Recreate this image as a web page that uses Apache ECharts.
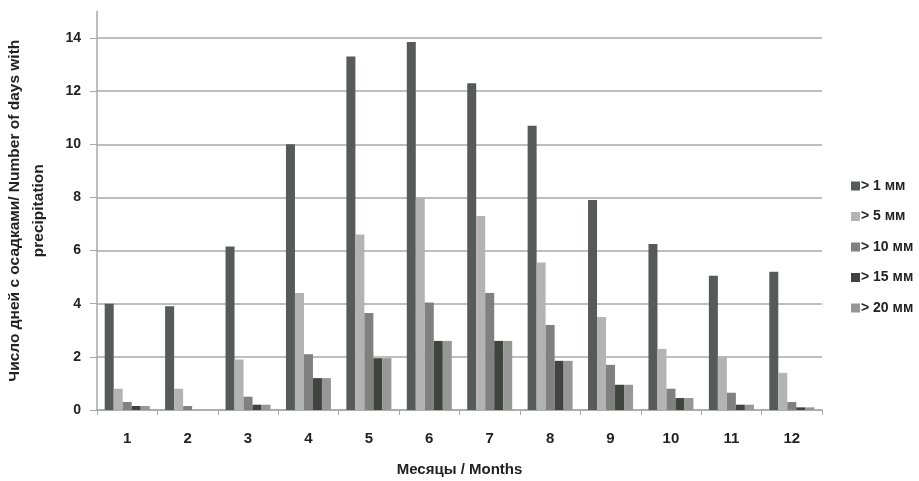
<!DOCTYPE html>
<html><head><meta charset="utf-8">
<script src="https://cdn.jsdelivr.net/npm/echarts@6/dist/echarts.min.js"></script>
<style>html,body{margin:0;padding:0;background:#fff}#c{width:919px;height:481px}</style>
</head><body><div id="c"></div>
<script>
const months = ['1','2','3','4','5','6','7','8','9','10','11','12'];
const seriesNames = ['> 1 мм','> 5 мм','> 10 мм','> 15 мм','> 20 мм'];
const gt1  = [4.0, 3.9, 6.15, 10.0, 13.3, 13.85, 12.3, 10.7, 7.9, 6.25, 5.05, 5.2];
const gt5  = [0.8, 0.8, 1.9, 4.4, 6.6, 8.0, 7.3, 5.55, 3.5, 2.3, 2.0, 1.4];
const gt10 = [0.3, 0.15, 0.5, 2.1, 3.65, 4.05, 4.4, 3.2, 1.7, 0.8, 0.65, 0.3];
const gt15 = [0.15, 0, 0.2, 1.2, 1.95, 2.6, 2.6, 1.85, 0.95, 0.45, 0.2, 0.1];
const gt20 = [0.15, 0, 0.2, 1.2, 1.95, 2.6, 2.6, 1.85, 0.95, 0.45, 0.2, 0.1];
const colors = ['#575a58','#b3b3b3','#808080','#404340','#979797'];
const allData = [gt1, gt5, gt10, gt15, gt20];

const font = 'Liberation Sans, Arial, sans-serif';
const chart = echarts.init(document.getElementById('c'));
chart.setOption({
  animation: false,
  grid: {left: 97, right: 97, top: 11.4, bottom: 71, containLabel: false, outerBoundsMode: 'none'},
  legend: {
    orient: 'vertical', left: 846, top: 174,
    itemWidth: 9, itemHeight: 9, itemGap: 16.5,
    icon: 'rect',
    textStyle: {fontFamily: font, fontWeight: 'bold', fontSize: 14, color: '#222', padding: [0,0,0,-4]},
    data: seriesNames
  },
  xAxis: {
    type: 'category', data: months,
    name: 'Месяцы / Months', nameLocation: 'middle', nameGap: 52,
    nameTextStyle: {fontFamily: font, fontWeight: 'bold', fontSize: 15, color: '#222'},
    axisLine: {lineStyle: {color: '#a8a8a8', width: 1.5}},
    axisTick: {show: true, length: 5, lineStyle: {color: '#a8a8a8'}},
    axisLabel: {fontFamily: font, fontWeight: 'bold', fontSize: 15, color: '#222', margin: 21}
  },
  yAxis: {
    type: 'value', min: 0, max: 15, interval: 2,
    name: 'Число дней с осадками/ Number of days with\nprecipitation',
    nameLocation: 'middle', nameGap: 46,
    nameTextStyle: {fontFamily: font, fontWeight: 'bold', fontSize: 15.5, color: '#222', lineHeight: 24, align: 'center'},
    axisLine: {show: true, lineStyle: {color: '#a8a8a8', width: 1.5}},
    axisTick: {show: true, length: 7, lineStyle: {color: '#a8a8a8'}},
    axisLabel: {fontFamily: font, fontWeight: 'bold', fontSize: 14, color: '#222', margin: 16, showMaxLabel: false},
    splitLine: {show: true, showMaxLine: false, lineStyle: {color: '#a8a8a8', width: 1.5}}
  },
  series: seriesNames.map((n, i) => ({
    name: n, type: 'bar', data: allData[i],
    barWidth: 9, barGap: '0%',
    itemStyle: {color: colors[i]}
  }))
});
</script></body></html>
